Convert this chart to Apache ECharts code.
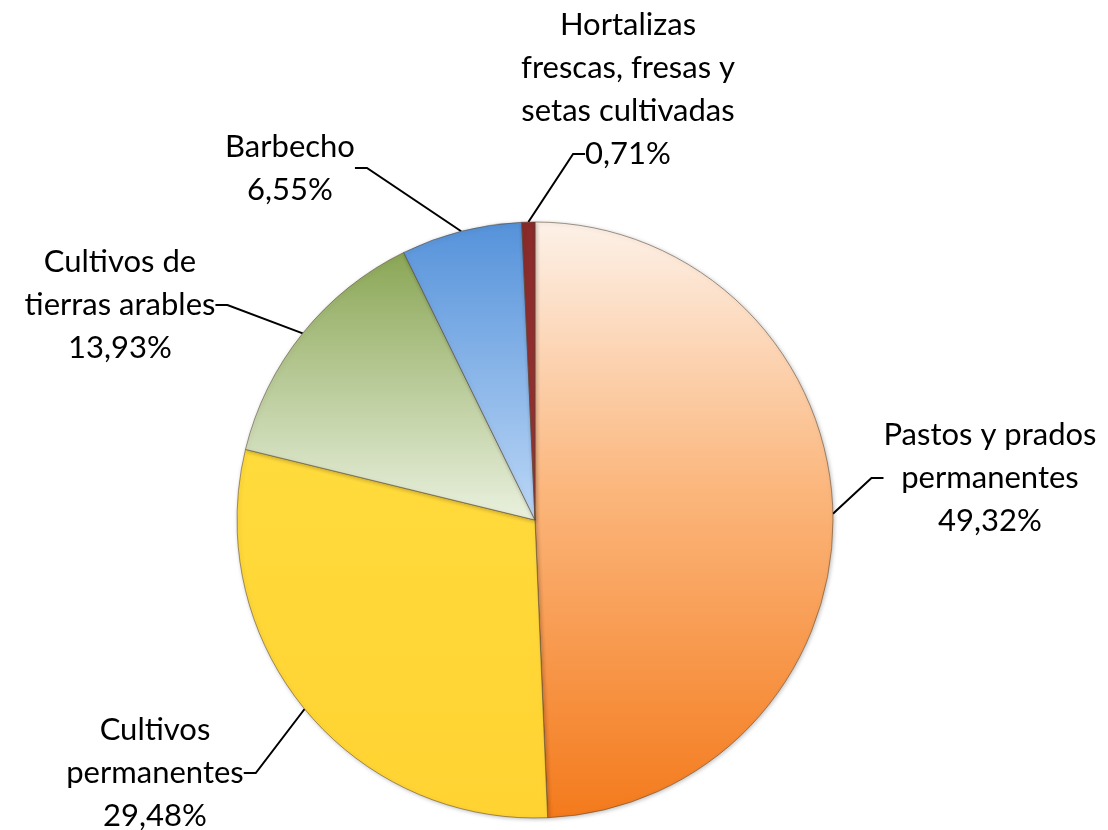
<!DOCTYPE html>
<html>
<head>
<meta charset="utf-8">
<script src="https://cdn.jsdelivr.net/npm/echarts@6/dist/echarts.min.js"></script>
<style>
  html, body { margin: 0; padding: 0; background: #fff; }
  #chart { width: 1108px; height: 830px; }
</style>
</head>
<body>
<div id="chart"></div>
<script>
// datos (porcentaje de superficie)
const categories = [
  "Pastos y prados\npermanentes",
  "Cultivos\npermanentes",
  "Cultivos de\ntierras arables",
  "Barbecho",
  "Hortalizas\nfrescas, fresas y\nsetas cultivadas"
];
const values = [49.32, 29.48, 13.93, 6.55, 0.71];

// posicion de cada etiqueta (centro del bloque de texto)
const labelPos = [
  [990, 478],
  [155, 773],
  [120, 305],
  [290, 168],
  [628, 154]
];

function grad(top, bottom) {
  return new echarts.graphic.LinearGradient(0, 0, 0, 1, [
    { offset: 0, color: top },
    { offset: 1, color: bottom }
  ]);
}

const colors = [
  new echarts.graphic.LinearGradient(0, 0, 0, 1, [
    { offset: 0, color: "#fdf1e8" },
    { offset: 0.45, color: "#fbb67c" },
    { offset: 1, color: "#f47a1c" }
  ]),
  grad("#ffdb3c", "#ffd332"),
  grad("#8aa655", "#eaf1df"),
  grad("#5592da", "#bcd7f6"),
  grad("#8a2a2a", "#9b3535")
];

const fontFamily = "Lato";
const fontSize = 31;

function pct(v) {
  return v.toFixed(2).replace(".", ",") + "%";
}

const chart = echarts.init(document.getElementById("chart"));
chart.setOption({
  animation: false,
  // la categoria muy pequena lleva su nombre encima del porcentaje
  title: {
    text: categories[4],
    left: 628,
    top: 3,
    textAlign: "center",
    padding: 0,
    textStyle: {
      color: "#000",
      fontFamily: fontFamily,
      fontSize: fontSize,
      fontWeight: "normal",
      lineHeight: 43
    }
  },
  series: [
    {
      type: "pie",
      center: [535, 520],
      radius: [0, 298],
      startAngle: 90,
      clockwise: true,
      avoidLabelOverlap: false,
      itemStyle: {
        borderColor: "rgba(90,70,50,0.55)",
        borderWidth: 1,
        shadowColor: "rgba(0,0,0,0.25)",
        shadowBlur: 4,
        shadowOffsetX: 1,
        shadowOffsetY: 1
      },
      label: {
        show: true,
        position: "outside",
        color: "#000",
        fontFamily: fontFamily,
        fontSize: fontSize,
        lineHeight: 43,
        align: "center",
        formatter: function (p) {
          if (p.dataIndex === 4) return pct(p.value);
          return p.name + "\n" + pct(p.value);
        }
      },
      labelLine: {
        show: true,
        length: 20,
        length2: 12,
        lineStyle: { color: "#000", width: 2 }
      },
      labelLayout: function (params) {
        const pos = labelPos[params.dataIndex];
        return {
          x: pos[0],
          y: pos[1],
          align: "center",
          verticalAlign: "middle"
        };
      },
      emphasis: { disabled: true },
      data: values.map(function (v, i) {
        return { name: categories[i], value: v, itemStyle: { color: colors[i] } };
      })
    }
  ]
});
</script>
</body>
</html>
